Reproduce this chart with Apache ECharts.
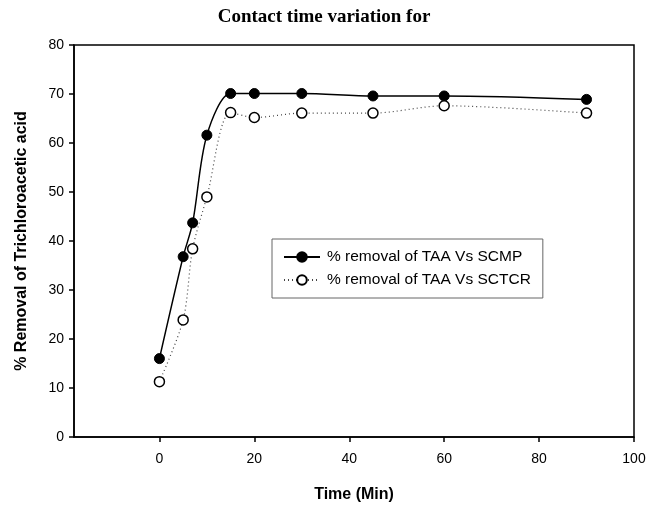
<!DOCTYPE html>
<html>
<head>
<meta charset="utf-8">
<script src="https://cdn.jsdelivr.net/npm/echarts@6/dist/echarts.min.js"></script>
<style>html,body{margin:0;padding:0;background:#fff;}#c{width:648px;height:506px;}</style>
</head>
<body>
<div id="c"></div>
<script>
const timeMin = [0, 5, 7, 10, 15, 20, 30, 45, 60, 90];
const scmp = [16.0, 36.8, 43.7, 61.6, 70.1, 70.1, 70.1, 69.6, 69.6, 68.9];
const sctcr = [11.3, 23.9, 38.4, 49.0, 66.2, 65.2, 66.1, 66.1, 67.6, 66.1];
const xTicks = [0, 20, 40, 60, 80, 100];
const yTicks = [0, 10, 20, 30, 40, 50, 60, 70, 80];
const seriesNames = ['% removal of TAA Vs SCMP', '% removal of TAA Vs SCTCR'];

const chart = echarts.init(document.getElementById('c'));
const labelFont = { fontFamily: 'Liberation Sans, Arial, sans-serif', fontSize: 14, color: '#000' };
chart.setOption({
  animation: false,
  backgroundColor: '#fff',
  title: {
    text: 'Contact time variation for',
    left: 'center', top: 3,
    textStyle: { fontFamily: 'Liberation Serif, Times New Roman, serif', fontSize: 19, fontWeight: 'bold', color: '#000' }
  },
  grid: { left: 74, right: 14, top: 45, bottom: 69, outerBoundsMode: 'none', containLabel: false, show: true, borderColor: '#000', borderWidth: 1.5, backgroundColor: 'transparent' },
  legend: {
    orient: 'vertical',
    left: 272, top: 239,
    padding: [10, 12, 10, 11],
    itemGap: 7,
    itemWidth: 36, itemHeight: 12,
    borderColor: '#666', borderWidth: 1,
    textStyle: { fontFamily: 'Liberation Sans, Arial, sans-serif', fontSize: 15.5, color: '#000', padding: [0, 0, 0, 2] },
    data: seriesNames
  },
  xAxis: {
    type: 'value', min: -18, max: 100,
    name: 'Time (Min)', nameLocation: 'middle', nameGap: 50,
    nameTextStyle: { fontFamily: 'Liberation Sans, Arial, sans-serif', fontSize: 16, fontWeight: 'bold', color: '#000' },
    axisLine: { show: true, onZero: false, lineStyle: { color: '#000', width: 1.5 } },
    axisTick: { show: true, length: 5, lineStyle: { color: '#000', width: 1.5 }, customValues: xTicks },
    axisLabel: Object.assign({ margin: 15, customValues: xTicks }, labelFont),
    splitLine: { show: false }
  },
  yAxis: {
    type: 'value', min: 0, max: 80, interval: 10,
    name: '% Removal of Trichloroacetic acid', nameLocation: 'middle', nameGap: 44,
    nameTextStyle: { fontFamily: 'Liberation Sans, Arial, sans-serif', fontSize: 16, fontWeight: 'bold', color: '#000' },
    axisLine: { show: true, onZero: false, lineStyle: { color: '#000', width: 1.5 } },
    axisTick: { show: true, length: 5, lineStyle: { color: '#000', width: 1.5 }, customValues: yTicks },
    axisLabel: Object.assign({ margin: 10, customValues: yTicks }, labelFont),
    splitLine: { show: false }
  },
  series: [
    {
      name: seriesNames[0], type: 'line', smooth: 0.3,
      data: timeMin.map((t, i) => [t, scmp[i]]),
      symbol: 'circle', symbolSize: 10,
      itemStyle: { color: '#000', borderColor: '#000', borderWidth: 1 },
      lineStyle: { color: '#000', width: 1.5, type: 'solid' }
    },
    {
      name: seriesNames[1], type: 'line', smooth: 0.3,
      data: timeMin.map((t, i) => [t, sctcr[i]]),
      symbol: 'circle', symbolSize: 10,
      itemStyle: { color: '#fff', borderColor: '#000', borderWidth: 1.5 },
      lineStyle: { color: '#444', width: 1.2, type: [1, 3] }
    }
  ]
});
</script>
</body>
</html>
